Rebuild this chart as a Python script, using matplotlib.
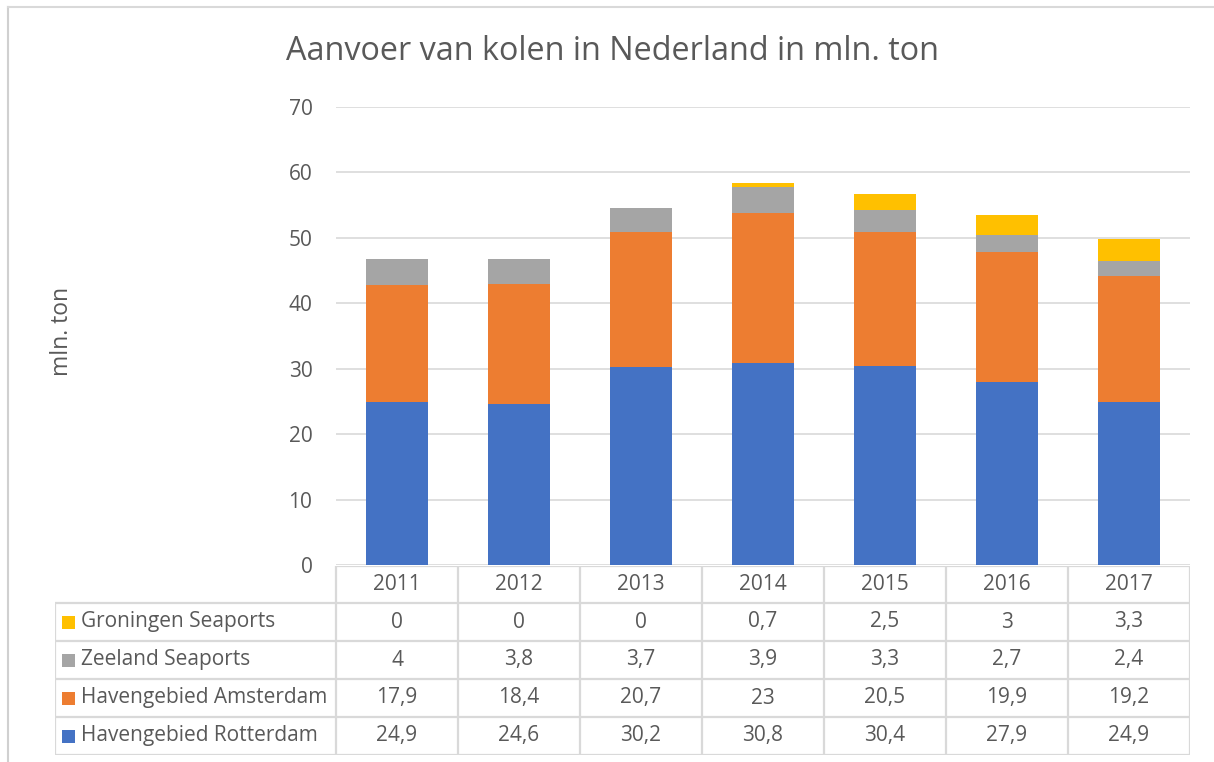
import numpy as np
import matplotlib.pyplot as plt
from matplotlib.lines import Line2D

plt.rcParams['font.family'] = ['Open Sans', 'DejaVu Sans']

years = ['2011', '2012', '2013', '2014', '2015', '2016', '2017']
series = ['Havengebied Rotterdam', 'Havengebied Amsterdam', 'Zeeland Seaports', 'Groningen Seaports']
rotterdam = [24.9, 24.6, 30.2, 30.8, 30.4, 27.9, 24.9]
amsterdam = [17.9, 18.4, 20.7, 23, 20.5, 19.9, 19.2]
zeeland = [4, 3.8, 3.7, 3.9, 3.3, 2.7, 2.4]
groningen = [0, 0, 0, 0.7, 2.5, 3, 3.3]
colors = ['#4472C4', '#ED7D31', '#A5A5A5', '#FFC000']

W, H = 1214, 762
fig = plt.figure(figsize=(W / 100, H / 100), dpi=100)
txt = '#595959'
grid = '#d9d9d9'
fs = 15

def fx(px):
    return px / W

def fy(py):
    return 1 - py / H

# main plot area
ax = fig.add_axes([fx(336), fy(565), fx(1190) - fx(336), fy(107) - fy(565)])
x = np.arange(len(years))
data = [rotterdam, amsterdam, zeeland, groningen]
bottom = np.zeros(len(years))
for vals, c, name in zip(data, colors, series):
    ax.bar(x, vals, 0.51, bottom=bottom, color=c, label=name, zorder=3)
    bottom += np.array(vals)
ax.set_xlim(-0.5, len(years) - 0.5)
ax.set_ylim(0, 70)
ax.set_yticks(range(0, 71, 10))
ax.yaxis.grid(True, color=grid, lw=1.2, zorder=0)
for s in ax.spines.values():
    s.set_visible(False)
ax.tick_params(axis='y', length=0, pad=17, labelsize=fs, labelcolor=txt)
ax.tick_params(axis='x', length=0, labelbottom=False)
ax.set_ylabel('mln. ton', fontsize=16.5, color=txt, labelpad=0)
ax.yaxis.set_label_coords(-(336 - 74) / 854, 0.51)

# data table
left_units = (336 - 55) / 122
tab = fig.add_axes([fx(55), fy(755), fx(1190) - fx(55), fy(566) - fy(755)])
tab.set_xlim(-0.5 - left_units, len(years) - 0.5)
row_edges = [566, 603, 641, 679, 717, 755]
tab.set_ylim(755, 566)
tab.axis('off')
lk = dict(color=grid, lw=1.6, solid_capstyle='butt')
xl = -0.5 - left_units
xr = len(years) - 0.5
# horizontal lines
tab.plot([-0.5, xr], [566, 566], **lk)
for yy in row_edges[1:]:
    tab.plot([xl, xr], [yy, yy], **lk)
# vertical lines
for i in range(len(years) + 1):
    tab.plot([i - 0.5, i - 0.5], [566, 755], **lk)
tab.plot([xl, xl], [603, 755], **lk)

for i, y in enumerate(years):
    tab.text(i, (566 + 603) / 2, y, ha='center', va='center', fontsize=fs, color=txt)

rows = list(zip(series, data, colors))[::-1]
for r, (name, vals, c) in enumerate(rows):
    yc = (row_edges[r + 1] + row_edges[r + 2]) / 2
    tab.add_patch(plt.Rectangle((xl + 7 / 122, yc - 6.5), 13 / 122, 13, color=c, lw=0))
    tab.text(xl + 26 / 122, yc, name, ha='left', va='center', fontsize=fs, color=txt)
    for i, v in enumerate(vals):
        tab.text(i, yc, f'{v:g}'.replace('.', ','), ha='center', va='center', fontsize=fs, color=txt)

# title
fig.text(fx(613), fy(52), 'Aanvoer van kolen in Nederland in mln. ton', ha='center', va='center',
         fontsize=23.3, color=txt)

# chart border
fig.add_artist(Line2D([fx(8), fx(8)], [0, fy(7)], color='#d0d0d0', lw=1.5))
fig.add_artist(Line2D([fx(8), 1], [fy(7), fy(7)], color='#d9d9d9', lw=1.5))

fig.savefig('out.png', dpi=100)
